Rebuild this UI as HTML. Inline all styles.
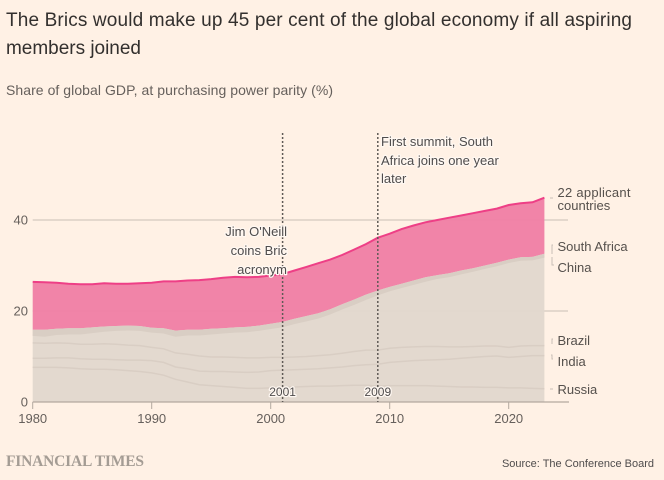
<!DOCTYPE html>
<html lang="en">
<head>
<meta charset="utf-8">
<title>Brics share of global GDP</title>
<style>
html,body{margin:0;padding:0;background:#fff1e5;}
body{width:664px;height:480px;overflow:hidden;}
svg{display:block;font-family:"Liberation Sans",sans-serif;}
.halo{paint-order:stroke;stroke:#fff8f2;stroke-width:2.5px;stroke-linejoin:round;}
.tick{font-size:13px;fill:#66605c;}
.lbl{font-size:13px;fill:#55504c;}
.ann{font-size:13px;fill:#4f4c4c;}
</style>
</head>
<body>
<svg id="chart" width="664" height="480" viewBox="0 0 664 480">
  <rect width="664" height="480" fill="#fff1e5"/>
  <text x="6" y="26" font-size="19" fill="#33302e" textLength="626" lengthAdjust="spacing">The Brics would make up 45 per cent of the global economy if all aspiring</text>
  <text x="6" y="54" font-size="19" fill="#33302e" textLength="135" lengthAdjust="spacing">members joined</text>
  <text x="6" y="95" font-size="14" fill="#66605c" textLength="327" lengthAdjust="spacing">Share of global GDP, at purchasing power parity (%)</text>
  <g id="grid"></g>
  <g id="areas"></g>
  <g id="axes"></g>

  <g id="annotations">
    <text class="ann halo" x="287" y="236" text-anchor="end">Jim O'Neill</text>
    <text class="ann halo" x="287" y="255" text-anchor="end">coins Bric</text>
    <text class="ann halo" x="287" y="274" text-anchor="end">acronym</text>
    <text class="ann halo" x="381" y="146">First summit, South</text>
    <text class="ann halo" x="381" y="165">Africa joins one year</text>
    <text class="ann halo" x="381" y="183">later</text>
  </g>

  <g>
    <text class="lbl" x="557.5" y="197" textLength="73" lengthAdjust="spacing">22 applicant</text>
    <text class="lbl" x="557.5" y="210">countries</text>
    <text class="lbl" x="557.5" y="251">South Africa</text>
    <text class="lbl" x="557.5" y="272">China</text>
    <text class="lbl" x="557.5" y="345">Brazil</text>
    <text class="lbl" x="557.5" y="366">India</text>
    <text class="lbl" x="557.5" y="394">Russia</text>
    <g fill="none" stroke="#c9c0b7" stroke-width="1">
      <path d="M550 198H553"/>
      <path d="M553 245H552V254"/>
      <path d="M552 257V265H554"/>
      <path d="M553 339H552V344"/>
      <path d="M551 355H552V359H553"/>
      <path d="M550 389H553"/>
    </g>
  </g>

  <text x="6" y="466" font-family="'Liberation Serif',serif" font-weight="bold" font-size="15.5" fill="#a49c94" textLength="138" lengthAdjust="spacing">FINANCIAL TIMES</text>
  <text x="654" y="467" font-size="11" fill="#4f4c4c" text-anchor="end">Source: The Conference Board</text>
</svg>

<script>
const years = [1980,1981,1982,1983,1984,1985,1986,1987,1988,1989,1990,1991,1992,1993,1994,1995,1996,1997,1998,1999,2000,2001,2002,2003,2004,2005,2006,2007,2008,2009,2010,2011,2012,2013,2014,2015,2016,2017,2018,2019,2020,2021,2022,2023];
const russiaTop = [7.6,7.6,7.6,7.5,7.3,7.2,7.2,7.1,6.9,6.7,6.4,5.9,5.0,4.4,3.8,3.6,3.4,3.2,3.0,3.0,3.1,3.2,3.3,3.4,3.5,3.5,3.6,3.7,3.7,3.5,3.6,3.6,3.6,3.6,3.5,3.4,3.3,3.3,3.2,3.2,3.1,3.1,3.0,2.9];
const indiaTop = [9.6,9.6,9.7,9.7,9.5,9.4,9.4,9.3,9.2,9.2,9.1,8.7,7.7,7.3,6.8,6.7,6.7,6.6,6.5,6.6,6.9,7.0,7.1,7.2,7.3,7.5,7.7,8.0,8.2,8.3,8.7,8.9,9.1,9.2,9.3,9.4,9.6,9.8,10.0,10.1,9.8,10.0,10.2,10.2];
const brazilTop = [13.0,12.9,13.0,12.9,12.7,12.7,12.8,12.7,12.5,12.4,12.0,11.7,10.8,10.5,10.1,9.9,9.9,9.8,9.7,9.7,9.8,9.8,9.9,10.0,10.2,10.4,10.7,11.1,11.4,11.4,11.8,12.0,12.1,12.2,12.2,12.1,12.1,12.2,12.3,12.3,12.0,12.3,12.4,12.4];
const chinaTop = [14.7,14.5,14.9,15.0,15.0,15.3,15.6,15.8,15.9,15.8,15.4,15.2,14.5,14.8,14.8,15.0,15.2,15.4,15.5,15.8,16.2,16.6,17.3,17.9,18.5,19.4,20.5,21.5,22.6,23.6,24.5,25.2,25.9,26.6,27.2,27.6,28.2,28.8,29.4,30.0,30.7,31.2,31.3,31.9];
const southAfricaTop = [15.9,15.9,16.1,16.2,16.2,16.4,16.6,16.7,16.8,16.7,16.3,16.2,15.7,15.9,15.9,16.1,16.2,16.4,16.5,16.8,17.2,17.6,18.3,18.9,19.5,20.4,21.5,22.5,23.6,24.5,25.3,26.0,26.7,27.4,27.9,28.3,28.9,29.4,30.0,30.6,31.3,31.8,31.9,32.6];
const applicantsTop = [26.4,26.3,26.2,26.0,25.9,25.9,26.1,26.0,26.0,26.1,26.2,26.5,26.5,26.7,26.8,27.0,27.3,27.5,27.4,27.5,27.8,28.1,28.9,29.7,30.5,31.3,32.3,33.5,34.7,36.1,37.0,38.0,38.8,39.5,40.0,40.5,41.0,41.5,42.0,42.5,43.3,43.7,43.9,44.9];
const yTicks = [0,20,40];
const xTicks = [1980,1990,2000,2010,2020];
const eventYears = [2001,2009];

const NS = 'http://www.w3.org/2000/svg';
const xScale = v => 32.7 + (v - 1980) * 11.9;
const yScale = v => 402 - v * 4.55;

function make(tag, attrs, parent, text) {
  const el = document.createElementNS(NS, tag);
  for (const k in attrs) el.setAttribute(k, attrs[k]);
  if (text !== undefined) el.textContent = text;
  parent.appendChild(el);
  return el;
}
function linePath(vals) {
  return vals.map((v, i) => (i ? 'L' : 'M') + xScale(years[i]).toFixed(1) + ' ' + yScale(v).toFixed(1)).join('');
}
function bandPath(top, bottom) {
  let d = linePath(top);
  for (let i = years.length - 1; i >= 0; i--) {
    d += 'L' + xScale(years[i]).toFixed(1) + ' ' + yScale(bottom ? bottom[i] : 0).toFixed(1);
  }
  return d + 'Z';
}

const grid = document.getElementById('grid');
const areas = document.getElementById('areas');
const axes = document.getElementById('axes');
const annotations = document.getElementById('annotations');

yTicks.forEach(t => {
  if (t > 0) {
    const gl = make('line', {x1: xScale(1980), x2: 568, y1: yScale(t), y2: yScale(t), stroke: '#c9bfb5', 'stroke-width': 1}, grid);
    
    
  }
  const lab = make('text', {class: 'tick', x: 28, y: yScale(t) + 4.5, 'text-anchor': 'end'}, axes, String(t));
  
  
});

const stackBase = make('path', {d: bandPath(southAfricaTop), fill: '#e2d7cd', 'fill-opacity': 0.95}, areas);



const pink = make('path', {d: bandPath(applicantsTop, southAfricaTop), fill: '#f07fa5', 'fill-opacity': 0.96}, areas);



const russiaLine = make('path', {d: linePath(russiaTop), fill: 'none', stroke: '#d9cec4', 'stroke-width': 1.5}, areas);



const indiaLine = make('path', {d: linePath(indiaTop), fill: 'none', stroke: '#d9cec4', 'stroke-width': 1.5}, areas);



const brazilLine = make('path', {d: linePath(brazilTop), fill: 'none', stroke: '#d9cec4', 'stroke-width': 1.5}, areas);



const chinaLine = make('path', {d: linePath(chinaTop), fill: 'none', stroke: '#d9cec4', 'stroke-width': 1.5}, areas);



const saBand = make('path', {d: bandPath(southAfricaTop, chinaTop), fill: '#d9cec4'}, areas);



const topLine = make('path', {d: linePath(applicantsTop), fill: 'none', stroke: '#ee3f86', 'stroke-width': 2}, areas);



const xAxis = make('line', {x1: xScale(1980), x2: 569, y1: yScale(0), y2: yScale(0), stroke: '#b3a99f', 'stroke-width': 1.2}, axes);



xTicks.forEach(t => {
  const tk = make('line', {x1: xScale(t), x2: xScale(t), y1: yScale(0), y2: yScale(0) + 7, stroke: '#b3a99f', 'stroke-width': 1}, axes);
  
  
  const lab = make('text', {class: 'tick', x: xScale(t), y: 423, 'text-anchor': 'middle'}, axes, String(t));
  
  
});

eventYears.forEach(t => {
  const ln = make('line', {x1: xScale(t), x2: xScale(t), y1: 133, y2: yScale(0), stroke: '#5f5a56', 'stroke-width': 1.5, 'stroke-dasharray': '2 2'}, axes);
  
  
  const lab = make('text', {class: 'ann halo', x: xScale(t), y: 396, 'text-anchor': 'middle', style: 'font-size:12px'}, annotations, String(t));
  
  
});
</script>
</body>
</html>
